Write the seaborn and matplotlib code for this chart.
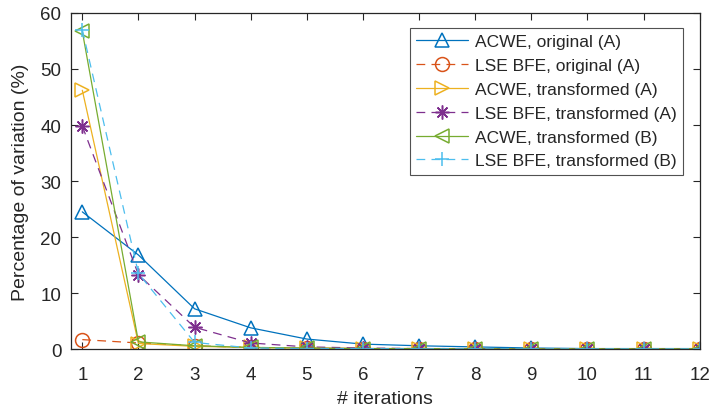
import pandas as pd
import seaborn as sns
import matplotlib.pyplot as plt
import numpy as np

iterations = list(range(1, 13))
acwe_orig_a = [24.5, 16.8, 7.2, 3.8, 1.8, 0.9, 0.6, 0.4, 0.2, 0.1, 0.1, 0.1]
lse_orig_a = [1.7, 1.1, 0.6, 0.3, 0.2, 0.1, 0.1, 0.1, 0.05, 0.05, 0.05, 0.05]
acwe_trans_a = [46.2, 1.0, 0.5, 0.3, 0.2, 0.1, 0.1, 0.05, 0.05, 0.05, 0.05, 0.05]
lse_trans_a = [39.8, 13.3, 3.9, 1.1, 0.4, 0.2, 0.1, 0.1, 0.05, 0.05, 0.05, 0.05]
acwe_trans_b = [56.7, 1.3, 0.6, 0.3, 0.2, 0.1, 0.1, 0.05, 0.05, 0.05, 0.05, 0.05]
lse_trans_b = [57.0, 13.5, 1.2, 0.2, 0.1, 0.1, 0.05, 0.05, 0.05, 0.05, 0.05, 0.05]

labels = ["ACWE, original (A)", "LSE BFE, original (A)", "ACWE, transformed (A)",
          "LSE BFE, transformed (A)", "ACWE, transformed (B)", "LSE BFE, transformed (B)"]
series = [acwe_orig_a, lse_orig_a, acwe_trans_a, lse_trans_a, acwe_trans_b, lse_trans_b]
colors = ["#0072BD", "#D95319", "#EDB120", "#7E2F8E", "#77AC30", "#4DBEEE"]
# (8, 2, 0) is an asterisk like MATLAB's '*'
markers = ["^", "o", ">", (8, 2, 0), "<", "+"]
dashed = [False, True, False, True, False, True]

df = pd.DataFrame({
    "iter": np.tile(iterations, len(labels)),
    "value": np.concatenate(series),
    "method": np.repeat(labels, len(iterations)),
})

sns.set_style("ticks")
plt.rcParams["font.family"] = ["Liberation Sans", "DejaVu Sans"]

fig, ax = plt.subplots(figsize=(7.11, 4.10), dpi=100)
for lab, col, mk, ds in zip(labels, colors, markers, dashed):
    sub = df[df["method"] == lab]
    sns.lineplot(data=sub, x="iter", y="value", ax=ax, color=col, marker=mk,
                 markersize=10, markerfacecolor="none",
                 markeredgecolor=col, markeredgewidth=1.1, linewidth=0.9,
                 linestyle=(0, (7, 5)) if ds else "-", label=lab)

ax.set_xlim(0.8, 12)
ax.set_ylim(0, 60)
ax.set_xticks(iterations)
ax.set_yticks(range(0, 61, 10))
ax.set_xlabel("# iterations", fontsize=14, labelpad=5)
ax.set_ylabel("Percentage of variation (%)", fontsize=14, labelpad=8)
ax.tick_params(labelsize=13.5, direction="in", length=5, width=0.8, top=True, right=True)
ax.tick_params(axis="x", pad=12)
ax.tick_params(axis="y", pad=7)
for s in ax.spines.values():
    s.set_linewidth(0.9)
    s.set_color("#262626")

leg = ax.legend(loc="upper right", fontsize=12.5, frameon=True, fancybox=False,
                edgecolor="#262626", handlelength=3.0, borderpad=0.35,
                labelspacing=0.5, handletextpad=0.4, borderaxespad=0,
                bbox_to_anchor=(0.973, 0.955))
leg.get_frame().set_linewidth(0.8)

fig.subplots_adjust(left=0.1, right=0.984, top=0.966, bottom=0.146)
fig.savefig("out.png", dpi=100)
